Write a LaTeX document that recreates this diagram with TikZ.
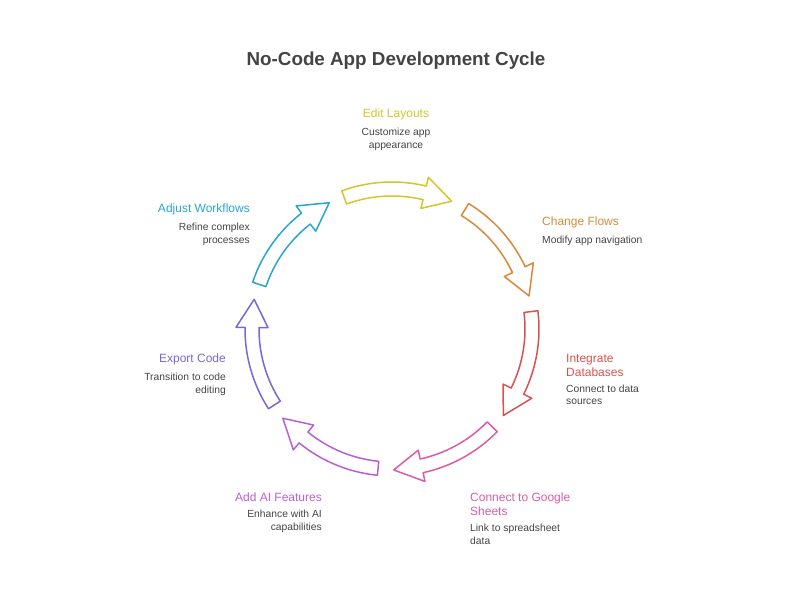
\documentclass[tikz,border=0pt]{standalone}
\usepackage{fontspec}
\setmainfont{Liberation Sans}
\usetikzlibrary{positioning}

\definecolor{txtgray}{RGB}{68,68,68}
\definecolor{cyel}{RGB}{214,196,40}
\definecolor{cora}{RGB}{217,137,58}
\definecolor{cred}{RGB}{217,82,82}
\definecolor{cpink}{RGB}{217,92,168}
\definecolor{cpur}{RGB}{182,96,216}
\definecolor{cvio}{RGB}{122,102,216}
\definecolor{ccyan}{RGB}{42,165,205}

\tikzset{
  ring arrow/.style={line width=1.5pt, line join=round, fill=white},
  steptitle/.style={font=\fontsize{12}{14}\selectfont, inner sep=0pt},
  stepdesc/.style={font=\fontsize{10.3}{12.8}\selectfont, text=txtgray, inner sep=0pt},
}

\begin{document}
\begin{tikzpicture}[x=1pt, y=1pt]
  \useasboundingbox (0,0) rectangle (792,612);

  % heading
  \node[font=\bfseries\fontsize{18.8}{22}\selectfont, text=txtgray] (title) at (396,551) {No-Code App Development Cycle};

  % the ring of seven curved arrows
  \begin{scope}[shift={(392,283)}]
    \foreach \s/\c in {110/cyel, 58.57/cora, 7.14/cred, -44.29/cpink,
                      -95.71/cpur, -147.14/cvio, -198.57/ccyan} {
      \pgfmathsetmacro\e{\s-45}
      \pgfmathsetmacro\b{\e+11.5}
      \draw[ring arrow, draw=\c] (\s:147) arc[start angle=\s, end angle=\b, radius=147]
        -- (\b:156) -- (\e:141) -- (\b:124) -- (\b:133)
        arc[start angle=\b, end angle=\s, radius=133] -- cycle;
    }
  \end{scope}

  % top
  \node[steptitle, text=cyel] (edit) at (396,498) {Edit Layouts};
  \node[stepdesc, align=center, below=8pt of edit] (editd) {Customize app\\appearance};

  % right side
  \node[steptitle, text=cora, anchor=west] (flows) at (542,390) {Change Flows};
  \node[stepdesc, align=left, below right=8pt and 0pt of flows.south west] (flowsd) {Modify app navigation};

  \node[steptitle, text=cred, align=left, anchor=west] (dbs) at (566,247) {Integrate\\Databases};
  \node[stepdesc, align=left, below right=8pt and 0pt of dbs.south west] (dbsd) {Connect to data\\sources};

  \node[steptitle, text=cpink, align=left, anchor=west] (sheets) at (470,108) {Connect to Google\\Sheets};
  \node[stepdesc, align=left, below right=8pt and 0pt of sheets.south west] (sheetsd) {Link to spreadsheet\\data};

  % left side
  \node[steptitle, text=cpur, anchor=east] (ai) at (322,115) {Add AI Features};
  \node[stepdesc, align=right, below left=8pt and 0pt of ai.south east] (aid) {Enhance with AI\\capabilities};

  \node[steptitle, text=cvio, anchor=east] (export) at (226,253) {Export Code};
  \node[stepdesc, align=right, below left=8pt and 0pt of export.south east] (exportd) {Transition to code\\editing};

  \node[steptitle, text=ccyan, anchor=east] (wflow) at (250,403) {Adjust Workflows};
  \node[stepdesc, align=right, below left=8pt and 0pt of wflow.south east] (wflowd) {Refine complex\\processes};
\end{tikzpicture}
\end{document}
